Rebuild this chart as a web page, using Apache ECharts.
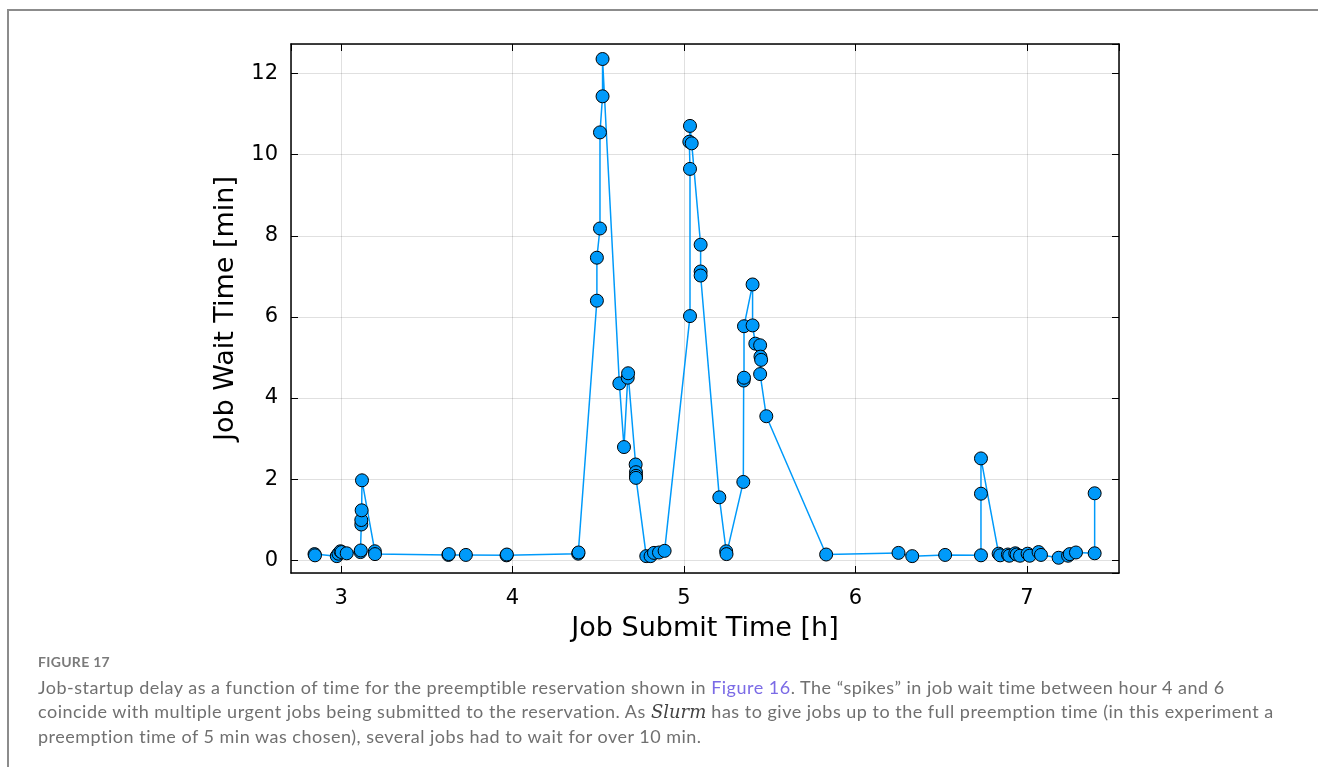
<!DOCTYPE html>
<html>
<head>
<meta charset="utf-8">
<title>Job wait time</title>
<script src="https://cdn.jsdelivr.net/npm/echarts@6/dist/echarts.min.js"></script>
<style>
  html, body { margin: 0; padding: 0; background: #fff; }
  body { width: 1318px; height: 767px; position: relative; overflow: hidden; }
  #frame {
    position: absolute; left: 7px; top: 9px; width: 1400px; height: 900px;
    border-left: 2px solid #8c8c8c; border-top: 2px solid #8c8c8c;
  }
  #chart { position: absolute; left: 0; top: 0; width: 1318px; height: 767px; }
  #caption {
    position: absolute; left: 38px; top: 652px;
    font-family: Lato, "Open Sans", sans-serif; color: #707070;
    white-space: nowrap;
  }
  #caption .fig { font-size: 14px; font-weight: bold; color: #7a7a7a; line-height: 20px; letter-spacing: 0.3px; }
  #caption .text { font-size: 18px; line-height: 24px; letter-spacing: 0.5px; margin-top: 3px; }
  #caption .link { color: #7b6be6; }
  #caption i { font-family: "DejaVu Serif", "Liberation Serif", serif; color: #444; letter-spacing: 0; }
</style>
</head>
<body>
<div id="frame"></div>
<div id="chart"></div>
<div id="caption">
  <div class="fig">FIGURE 17</div>
  <div class="text">Job-startup delay as a function of time for the preemptible reservation shown in <span class="link">Figure 16</span>. The “spikes” in job wait time between hour 4 and 6<br>coincide with multiple urgent jobs being submitted to the reservation. As <i>Slurm</i> has to give jobs up to the full preemption time (in this experiment a<br>preemption time of 5 min was chosen), several jobs had to wait for over 10 min.</div>
</div>
<script>
  // submit time of each job [h]
  const submitHours = [
    2.845, 2.848, 2.975, 2.985, 2.997, 3.003, 3.033, 3.113, 3.115, 3.118,
    3.118, 3.120, 3.122, 3.197, 3.198, 3.626, 3.628, 3.728, 3.965, 3.967,
    4.383, 4.385, 4.492, 4.492, 4.510, 4.510, 4.525, 4.525, 4.623, 4.650,
    4.672, 4.674, 4.718, 4.720, 4.720, 4.720, 4.780, 4.805, 4.825, 4.854,
    4.887, 5.035, 5.035, 5.031, 5.035, 5.045, 5.097, 5.097, 5.097, 5.206,
    5.246, 5.248, 5.346, 5.348, 5.350, 5.350, 5.400, 5.400, 5.416, 5.444,
    5.446, 5.450, 5.444, 5.480, 5.829, 6.251, 6.331, 6.523, 6.732, 6.732,
    6.732, 6.835, 6.844, 6.889, 6.897, 6.932, 6.940, 6.960, 7.004, 7.016,
    7.068, 7.082, 7.185, 7.240, 7.250, 7.286, 7.395, 7.395
  ];
  // wait time until job start [min]
  const waitMinutes = [
    0.15, 0.12, 0.10, 0.16, 0.22, 0.20, 0.17, 0.20, 0.24, 0.88,
    0.99, 1.23, 1.97, 0.22, 0.15, 0.13, 0.15, 0.13, 0.12, 0.14,
    0.16, 0.19, 6.40, 7.46, 8.18, 10.55, 11.44, 12.36, 4.36, 2.79,
    4.50, 4.61, 2.36, 2.17, 2.08, 2.03, 0.10, 0.10, 0.18, 0.19,
    0.23, 6.02, 9.65, 10.32, 10.71, 10.28, 7.78, 7.12, 7.02, 1.55,
    0.22, 0.15, 1.93, 4.43, 4.50, 5.77, 6.80, 5.79, 5.34, 5.30,
    5.02, 4.94, 4.59, 3.55, 0.14, 0.18, 0.10, 0.13, 0.12, 1.64,
    2.51, 0.16, 0.12, 0.14, 0.11, 0.17, 0.14, 0.11, 0.16, 0.11,
    0.20, 0.13, 0.06, 0.11, 0.15, 0.19, 0.17, 1.65
  ];
  const xRange = [2.708, 7.537];
  const yRange = [-0.316, 12.73];

  const font = '"DejaVu Sans", sans-serif';
  const intLabel = (v) => (Math.abs(v - Math.round(v)) < 1e-6 ? String(Math.round(v)) : '');

  const chart = echarts.init(document.getElementById('chart'));

  const baseAxis = {
    type: 'value',
    axisLine: { show: true, onZero: false, lineStyle: { color: '#000', width: 1.5 } },
    axisTick: { show: true, inside: true, length: 7, lineStyle: { color: '#000', width: 1 } },
  };

  const option = {
    animation: false,
    grid: { left: 291, top: 44, width: 828, height: 529, containLabel: false, outerBoundsMode: 'none' },
    xAxis: [
      {
        ...baseAxis,
        position: 'bottom',
        min: xRange[0],
        max: xRange[1],
        splitNumber: 5,
        name: 'Job Submit Time [h]',
        nameLocation: 'middle',
        nameGap: 42,
        nameTextStyle: { fontFamily: font, fontSize: 27, color: '#000', verticalAlign: 'top' },
        axisLabel: { fontFamily: font, fontSize: 21, color: '#000', margin: 15, formatter: intLabel, showMinLabel: false, showMaxLabel: false },
        splitLine: { show: true, lineStyle: { color: 'rgba(0,0,0,0.12)', width: 1 } },
      },
      {
        ...baseAxis,
        position: 'top',
        min: xRange[0],
        max: xRange[1],
        splitNumber: 5,
        axisLabel: { show: false },
        splitLine: { show: false },
      },
    ],
    yAxis: [
      {
        ...baseAxis,
        position: 'left',
        min: yRange[0],
        max: yRange[1],
        splitNumber: 6,
        name: 'Job Wait Time [min]',
        nameLocation: 'middle',
        nameGap: 52,
        nameTextStyle: { fontFamily: font, fontSize: 27, color: '#000' },
        axisLabel: { fontFamily: font, fontSize: 21, color: '#000', margin: 13, formatter: intLabel, showMinLabel: false, showMaxLabel: false },
        splitLine: { show: true, lineStyle: { color: 'rgba(0,0,0,0.12)', width: 1 } },
      },
      {
        ...baseAxis,
        position: 'right',
        min: yRange[0],
        max: yRange[1],
        splitNumber: 6,
        axisLabel: { show: false },
        splitLine: { show: false },
      },
    ],
    series: [
      {
        type: 'line',
        xAxisIndex: 0,
        yAxisIndex: 0,
        data: submitHours.map((h, i) => [h, waitMinutes[i]]),
        symbol: 'circle',
        symbolSize: 13,
        showAllSymbol: true,
        lineStyle: { color: '#009AFA', width: 1.5 },
        itemStyle: { color: '#009AFA', borderColor: '#000', borderWidth: 1 },
        emphasis: { disabled: true },
      },
    ],
  };

  chart.setOption(option);
</script>
</body>
</html>
